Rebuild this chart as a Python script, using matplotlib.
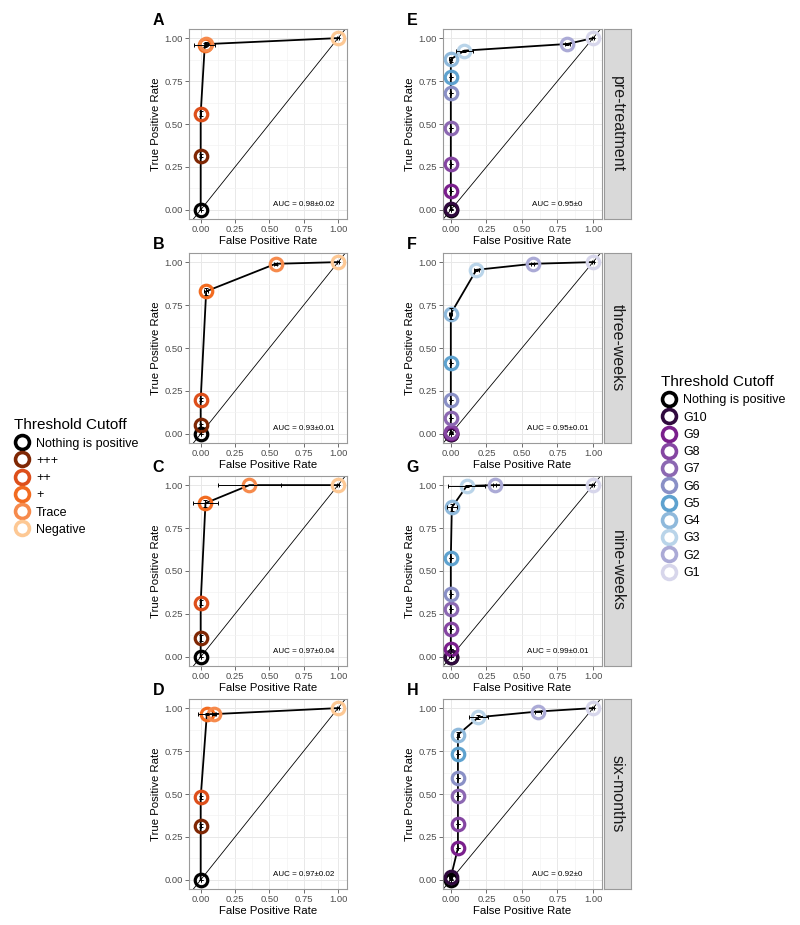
"""
ROC curves per time point: IHC grade (left) vs G-score (right)
"""
import matplotlib
matplotlib.use('Agg')
import matplotlib.pyplot as plt
from matplotlib.lines import Line2D

plt.rcParams['font.family'] = ['Liberation Sans', 'DejaVu Sans']

# ---- data ----
left_labels = ['Nothing is positive', '+++', '++', '+', 'Trace', 'Negative']
left_colors = ['#000000', '#7f2704', '#dd4f1b', '#f26b20', '#f68a4c', '#fdc894']

right_labels = ['Nothing is positive', 'G10', 'G9', 'G8', 'G7', 'G6', 'G5', 'G4', 'G3', 'G2', 'G1']
right_colors = ['#000000', '#300a3e', '#7a1f8c', '#8546a2', '#8c68b2', '#8a90c6',
                '#5ea2cf', '#8fb9db', '#b9d4e9', '#abaad6', '#d7d6eb']

timepoints = ['pre-treatment', 'three-weeks', 'nine-weeks', 'six-months']

# left column (A-D)
A_fpr = [0, 0, 0, 0.03, 0.04, 1]
A_tpr = [0, 0.315, 0.56, 0.96, 0.965, 1]
A_xerr = [0, 0, 0, 0.077, 0.01, 0.01]
A_yerr = [0, 0.01, 0.015, 0.01, 0.01, 0]

B_fpr = [0, 0, 0, 0.04, 0.545, 1]
B_tpr = [0, 0.05, 0.20, 0.83, 0.99, 1]
B_xerr = [0, 0, 0, 0.015, 0.01, 0.01]
B_yerr = [0, 0.01, 0.01, 0.02, 0.005, 0]

C_fpr = [0, 0, 0, 0.035, 0.355, 1]
C_tpr = [0, 0.11, 0.315, 0.895, 1.0, 1.0]
C_xerr = [0, 0, 0, 0.09, 0.23, 0.01]
C_yerr = [0, 0.015, 0.015, 0.02, 0, 0]

D_fpr = [0, 0, 0, 0.045, 0.095, 1]
D_tpr = [0, 0.315, 0.48, 0.965, 0.965, 1]
D_xerr = [0, 0, 0, 0.065, 0.01, 0.01]
D_yerr = [0, 0.01, 0.01, 0.005, 0.005, 0]

# right column (E-H)
E_fpr = [0, 0, 0, 0, 0, 0, 0, 0, 0.095, 0.82, 1]
E_tpr = [0, 0.005, 0.11, 0.27, 0.475, 0.68, 0.775, 0.877, 0.927, 0.966, 1]
E_xerr = [0, 0, 0, 0, 0, 0, 0, 0.01, 0.058, 0.015, 0.01]
E_yerr = [0, 0, 0, 0, 0, 0, 0, 0.015, 0.005, 0.005, 0]

F_fpr = [0, 0, 0, 0, 0, 0, 0, 0, 0.18, 0.575, 1]
F_tpr = [0, 0.0, 0.005, 0.01, 0.09, 0.20, 0.41, 0.70, 0.955, 0.99, 1]
F_xerr = [0, 0, 0, 0, 0, 0, 0, 0.01, 0.02, 0.01, 0.01]
F_yerr = [0, 0, 0, 0, 0, 0, 0, 0.03, 0.005, 0, 0]

G_fpr = [0, 0, 0, 0, 0, 0, 0, 0.007, 0.112, 0.31, 1]
G_tpr = [0, 0.0, 0.048, 0.16, 0.28, 0.367, 0.573, 0.87, 0.995, 1.0, 1]
G_xerr = [0, 0, 0, 0, 0, 0, 0, 0.037, 0.13, 0.01, 0.01]
G_yerr = [0, 0, 0, 0, 0, 0, 0, 0.02, 0.005, 0, 0]

H_fpr = [0, 0, 0.05, 0.05, 0.05, 0.05, 0.05, 0.05, 0.194, 0.611, 1]
H_tpr = [0, 0.015, 0.185, 0.325, 0.49, 0.596, 0.735, 0.845, 0.947, 0.98, 1]
H_xerr = [0, 0.01, 0, 0, 0, 0, 0, 0.01, 0.065, 0.02, 0.01]
H_yerr = [0, 0.01, 0, 0, 0, 0, 0, 0.015, 0.01, 0, 0]

auc_left = ['AUC = 0.98±0.02', 'AUC = 0.93±0.01', 'AUC = 0.97±0.04', 'AUC = 0.97±0.02']
auc_right = ['AUC = 0.95±0', 'AUC = 0.95±0.01', 'AUC = 0.99±0.01', 'AUC = 0.92±0']

left_panels = [('A', A_fpr, A_tpr, A_xerr, A_yerr), ('B', B_fpr, B_tpr, B_xerr, B_yerr),
               ('C', C_fpr, C_tpr, C_xerr, C_yerr), ('D', D_fpr, D_tpr, D_xerr, D_yerr)]
right_panels = [('E', E_fpr, E_tpr, E_xerr, E_yerr), ('F', F_fpr, F_tpr, F_xerr, F_yerr),
                ('G', G_fpr, G_tpr, G_xerr, G_yerr), ('H', H_fpr, H_tpr, H_xerr, H_yerr)]

# ---- layout (pixels) ----
W, H = 800, 925
fig = plt.figure(figsize=(W / 100, H / 100), dpi=100)
row_tops = [29, 253, 476, 699]
row_h = 190
border_col = '#9a9a9a'


def px_rect(x0, y0, w, h):
    return [x0 / W, 1 - (y0 + h) / H, w / W, h / H]


def draw_roc(ax, letter, fpr, tpr, xerr, yerr, colors, auc, xlim, letter_x):
    ax.set_xlim(*xlim)
    ax.set_ylim(-0.053, 1.053)
    ticks = [0, 0.25, 0.5, 0.75, 1.0]
    ticklabels = ['0.00', '0.25', '0.50', '0.75', '1.00']
    ax.set_xticks(ticks)
    ax.set_yticks(ticks)
    ax.set_xticklabels(ticklabels)
    ax.set_yticklabels(ticklabels)
    ax.set_xticks([0.125, 0.375, 0.625, 0.875], minor=True)
    ax.set_yticks([0.125, 0.375, 0.625, 0.875], minor=True)
    ax.grid(True, which='major', color='#e8e8e8', lw=0.7, zorder=0)
    ax.grid(True, which='minor', color='#f3f3f3', lw=0.5, zorder=0)
    ax.set_axisbelow(True)
    ax.tick_params(which='major', length=3, width=0.6, color='#555555',
                   labelsize=6.8, labelcolor='#4d4d4d', pad=1.5)
    ax.tick_params(which='minor', length=0)
    for s in ax.spines.values():
        s.set_color(border_col)
        s.set_linewidth(0.8)
    ax.axline((0, 0), (1, 1), color='black', lw=0.6, zorder=1)
    ax.plot(fpr, tpr, color='black', lw=1.3, zorder=2)
    for x, y, c in zip(fpr, tpr, colors):
        ax.plot(x, y, 'o', ms=9, mfc='none', mec=c, mew=2.3, zorder=3)
    ax.errorbar(fpr, tpr, xerr=xerr, yerr=yerr, fmt='none', ecolor='black',
                elinewidth=0.7, capsize=1.6, capthick=0.7, zorder=4)
    ax.text(0.75, 0.03, auc, fontsize=5.8, ha='center', va='center', zorder=5)
    ax.set_xlabel('False Positive Rate', fontsize=8.2, labelpad=1)
    ax.set_ylabel('True Positive Rate', fontsize=8.2, labelpad=2)
    ax.text(letter_x, 1.021, letter, transform=ax.transAxes, fontsize=11.5,
            fontweight='bold', ha='left', va='baseline')


for i, (letter, fpr, tpr, xerr, yerr) in enumerate(left_panels):
    ax = fig.add_axes(px_rect(189, row_tops[i], 158, row_h))
    draw_roc(ax, letter, fpr, tpr, xerr, yerr, left_colors, auc_left[i],
             (-0.085, 1.065), -0.23)

for i, (letter, fpr, tpr, xerr, yerr) in enumerate(right_panels):
    ax = fig.add_axes(px_rect(443, row_tops[i], 159, row_h))
    draw_roc(ax, letter, fpr, tpr, xerr, yerr, right_colors, auc_right[i],
             (-0.055, 1.063), -0.23)
    # facet strip
    sax = fig.add_axes(px_rect(604, row_tops[i], 27, row_h))
    sax.set_xticks([])
    sax.set_yticks([])
    sax.set_facecolor('#d9d9d9')
    for s in sax.spines.values():
        s.set_color(border_col)
        s.set_linewidth(0.8)
    sax.text(0.5, 0.5, timepoints[i], rotation=-90, fontsize=11.5, ha='center',
             va='center', color='#1a1a1a', transform=sax.transAxes)


# ---- legends ----
def handles(labels, colors):
    return [Line2D([], [], ls='none', marker='o', ms=10, mfc='none', mec=c, mew=2.6,
                   label=l) for l, c in zip(labels, colors)]


fig.legend(handles=handles(left_labels, left_colors), loc='upper left',
           bbox_to_anchor=(8 / W, 1 - 412 / H), frameon=False,
           title='Threshold Cutoff', title_fontsize=11, fontsize=9,
           handlelength=1.2, handletextpad=0.55, labelspacing=0.42,
           borderpad=0, alignment='left')
fig.legend(handles=handles(right_labels, right_colors), loc='upper left',
           bbox_to_anchor=(655 / W, 1 - 369 / H), frameon=False,
           title='Threshold Cutoff', title_fontsize=11, fontsize=9,
           handlelength=1.2, handletextpad=0.55, labelspacing=0.42,
           borderpad=0, alignment='left')

fig.savefig('out.png', dpi=100, facecolor='white')
